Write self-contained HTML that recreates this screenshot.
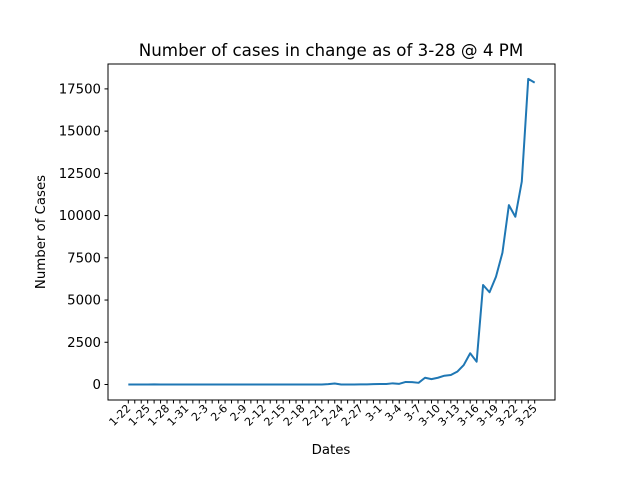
<!DOCTYPE html>
<html><head><meta charset="utf-8"><style>
body{margin:0;background:#fff}
svg{display:block;font-family:"DejaVu Sans","Liberation Sans",sans-serif}
</style></head><body>
<svg width="640" height="480" viewBox="0 0 640 480">
<rect width="640" height="480" fill="#fff"/>
<text x="331" y="56" font-size="16.7" text-anchor="middle">Number of cases in change as of 3-28 @ 4 PM</text>
<g id="plot"></g>
<rect x="108" y="64" width="447" height="336" fill="none" stroke="#000" stroke-width="1"/>
<text x="331" y="454" font-size="13.3" text-anchor="middle">Dates</text>
<text transform="translate(45,232) rotate(-90)" font-size="13.3" text-anchor="middle">Number of Cases</text>
</svg>
<script>
const values=[0,0,0,0,10,0,0,0,0,0,0,0,0,0,0,0,0,0,0,0,0,0,0,0,0,0,0,0,0,0,0,20,60,0,0,0,5,10,20,30,30,70,40,150,140,100,400,320,400,520,560,760,1150,1850,1350,5890,5460,6380,7800,10620,9930,12010,18090,17870];
const yTicks=[0,2500,5000,7500,10000,12500,15000,17500];
const startMonth=1,startDay=22;
const ns="http://www.w3.org/2000/svg";
const g=document.getElementById('plot');
const n=values.length;
const xL=108,xR=555,pad=(xR-xL)/1.1*0.05;
function X(i){return xL+pad+i*((xR-xL-2*pad)/(n-1));}
function Y(v){return 384.5-v/59.2;}
const mdays=[31,29,31,30];
function label(i){let m=startMonth,d=startDay+i;while(d>mdays[m-1]){d-=mdays[m-1];m++;}return m+'-'+d;}
function el(t,a){const e=document.createElementNS(ns,t);for(const k in a)e.setAttribute(k,a[k]);g.appendChild(e);return e;}
yTicks.forEach(v=>{
  const t=el('line',{x1:104.5,x2:108,y1:Y(v),y2:Y(v),stroke:'#000'});
  
  
  const l=el('text',{x:101,y:Y(v)+4.5,'font-size':13.3,'text-anchor':'end'});
  l.textContent=v;
  
  
});
for(let i=0;i<n;i++){
  const x=X(i);
  const t=el('line',{x1:x,x2:x,y1:400,y2:403.5,stroke:'#000'});
  
  
  if(i%3===0){
    const l=el('text',{transform:`translate(${x+3},${409}) rotate(-45)`,'font-size':11,'text-anchor':'end'});
    l.textContent=label(i);
    
    
  }
}
const p=el('polyline',{points:values.map((v,i)=>X(i)+','+Y(v)).join(' '),fill:'none',stroke:'#1f77b4','stroke-width':2,'stroke-linejoin':'round'});


</script>
</body></html>
